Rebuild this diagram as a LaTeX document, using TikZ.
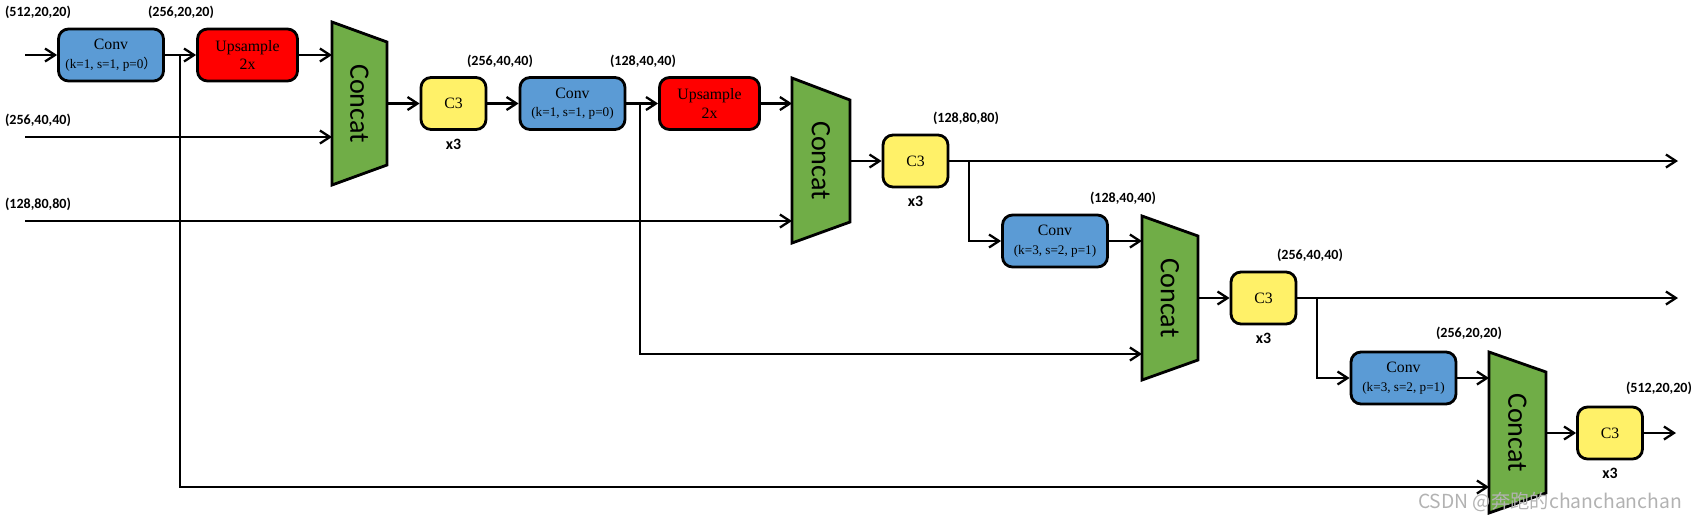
\documentclass[tikz,border=0pt]{standalone}
\usepackage{fontspec}
\setmainfont{Liberation Serif}
\setsansfont{Carlito}
\newfontfamily\cjkfont{Noto Sans CJK SC}
\usepackage{tikz}
\usetikzlibrary{arrows.meta,positioning}
\definecolor{convblue}{HTML}{5B9BD5}
\definecolor{upred}{HTML}{FF0000}
\definecolor{catgreen}{HTML}{70AD47}
\definecolor{cyellow}{HTML}{FFF168}
\newcommand\parsize{\fontsize{7.5}{9}\selectfont}
\tikzset{
  convbox/.style={draw=black, line width=1.6pt, rounded corners=2mm, fill=convblue, minimum width=2.1cm, minimum height=1.04cm, align=center, inner sep=1pt, font=\fontsize{9}{10.5}\selectfont},
  upbox/.style={convbox, fill=upred, minimum width=2.0cm},
  cbox/.style={convbox, fill=cyellow, minimum width=1.3cm},
  catbox/.style={draw=black, line width=1.6pt, fill=catgreen},
  cattext/.style={rotate=-90, inner sep=0pt, font=\sffamily\fontsize{16}{18}\selectfont},
  dims/.style={inner sep=0pt, font=\sffamily\bfseries\fontsize{8}{10}\selectfont},
  rep/.style={inner sep=0pt, font=\sffamily\bfseries\fontsize{9}{10}\selectfont},
  line/.style={-{Straight Barb[length=2mm,width=2.6mm]}, line width=1.3pt}
}
\begin{document}
\begin{tikzpicture}[x=0.02cm, y=-0.02cm, node distance=0.15cm]
    \useasboundingbox (0,0) rectangle (1695,522);

    \coordinate (cat1nw) at (332,22);
    \coordinate (cat1ne) at (387,42);
    \coordinate (cat1se) at (387,165);
    \coordinate (cat1sw) at (332,185);
    \coordinate (cat2nw) at (792,78);
    \coordinate (cat2ne) at (850,100);
    \coordinate (cat2se) at (850,222);
    \coordinate (cat2sw) at (792,243);
    \coordinate (cat3nw) at (1142,216);
    \coordinate (cat3ne) at (1198,236);
    \coordinate (cat3se) at (1198,360);
    \coordinate (cat3sw) at (1142,380);
    \coordinate (cat4nw) at (1489,352);
    \coordinate (cat4ne) at (1546,372);
    \coordinate (cat4se) at (1546,493);
    \coordinate (cat4sw) at (1489,513);
    \foreach \k in {1,2,3,4}
      \draw[catbox] (cat\k nw) -- (cat\k ne) -- (cat\k se) -- (cat\k sw) -- cycle;

    \node[cattext] (cat1) at (359.5,103.5) {Concat};
    \node[cattext] (cat2) at (821,160.5) {Concat};
    \node[cattext] (cat3) at (1170,298) {Concat};
    \node[cattext] (cat4) at (1517.5,432.5) {Concat};

    \node[convbox] (conv1) at (111,55) {Conv\\\parsize(k=1, s=1, p=0{\cjkfont ）}};
    \node[upbox] (up1) at (247.5,55) {Upsample\\2x};
    \node[cbox] (c3a) at (453.5,103.5) {C3};
    \node[convbox] (conv2) at (572.5,103.5) {Conv\\\parsize(k=1, s=1, p=0)};
    \node[upbox] (up2) at (709.5,103.5) {Upsample\\2x};
    \node[cbox] (c3b) at (915.5,161) {C3};
    \node[convbox] (conv3) at (1055,241) {Conv\\\parsize(k=3, s=2, p=1)};
    \node[cbox] (c3c) at (1263.5,298) {C3};
    \node[convbox] (conv4) at (1403.5,378) {Conv\\\parsize(k=3, s=2, p=1)};
    \node[cbox] (c3d) at (1610,433) {C3};

    \node[rep, below=of c3a] (rep1) {x3};
    \node[rep, below=of c3b] (rep2) {x3};
    \node[rep, below=of c3c] (rep3) {x3};
    \node[rep, below=of c3d] (rep4) {x3};

    \node[dims] (d1) at (38,12) {(512,20,20)};
    \node[dims] (d2) at (181,12) {(256,20,20)};
    \node[dims] (d3) at (38,120) {(256,40,40)};
    \node[dims] (d4) at (38,204) {(128,80,80)};
    \node[dims] (d5) at (500,61) {(256,40,40)};
    \node[dims] (d6) at (643,61) {(128,40,40)};
    \node[dims] (d7) at (966,118) {(128,80,80)};
    \node[dims] (d8) at (1123,198) {(128,40,40)};
    \node[dims] (d9) at (1310,255) {(256,40,40)};
    \node[dims] (d10) at (1469,333) {(256,20,20)};
    \node[dims] (d11) at (1659,388) {(512,20,20)};

    \coordinate (in1) at (25,55);
    \coordinate (in2) at (25,137);
    \coordinate (in3) at (25,221);
    \coordinate (sp1) at (180,55);
    \coordinate (bend1) at (180,487);
    \coordinate (sp2) at (640,103.5);
    \coordinate (bend2) at (640,354);
    \coordinate (sp3) at (969,161);
    \coordinate (bend3) at (969,241);
    \coordinate (sp4) at (1317,298);
    \coordinate (bend4) at (1317,378);
    \coordinate (out1) at (1678,161);
    \coordinate (out2) at (1678,298);
    \coordinate (out3) at (1676,433);

    \draw[line] (in1) -- (conv1);
    \draw[line] (conv1) -- (up1);
    \draw[line] (up1) -- (up1 -| cat1nw);
    \draw[line] (in2) -- (in2 -| cat1nw);
    \draw[line] (in3) -- (in3 -| cat2nw);
    \draw[line] (sp1) -- (bend1) -- (bend1 -| cat4nw);
    \draw[line] (c3a -| cat1ne) -- (c3a);
    \draw[line] (c3a) -- (conv2);
    \draw[line] (conv2) -- (up2);
    \draw[line] (up2) -- (up2 -| cat2nw);
    \draw[line] (sp2) -- (bend2) -- (bend2 -| cat3nw);
    \draw[line] (c3b -| cat2ne) -- (c3b);
    \draw[line] (c3b) -- (out1);
    \draw[line] (sp3) -- (bend3) -- (conv3);
    \draw[line] (conv3) -- (conv3 -| cat3nw);
    \draw[line] (c3c -| cat3ne) -- (c3c);
    \draw[line] (c3c) -- (out2);
    \draw[line] (sp4) -- (bend4) -- (conv4);
    \draw[line] (conv4) -- (conv4 -| cat4nw);
    \draw[line] (c3d -| cat4ne) -- (c3d);
    \draw[line] (c3d) -- (out3);

    \node[text=gray!60, font=\cjkfont\fontsize{11}{12}\selectfont] (mark) at (1550,502) {CSDN @奔跑的chanchanchan};
\end{tikzpicture}
\end{document}
